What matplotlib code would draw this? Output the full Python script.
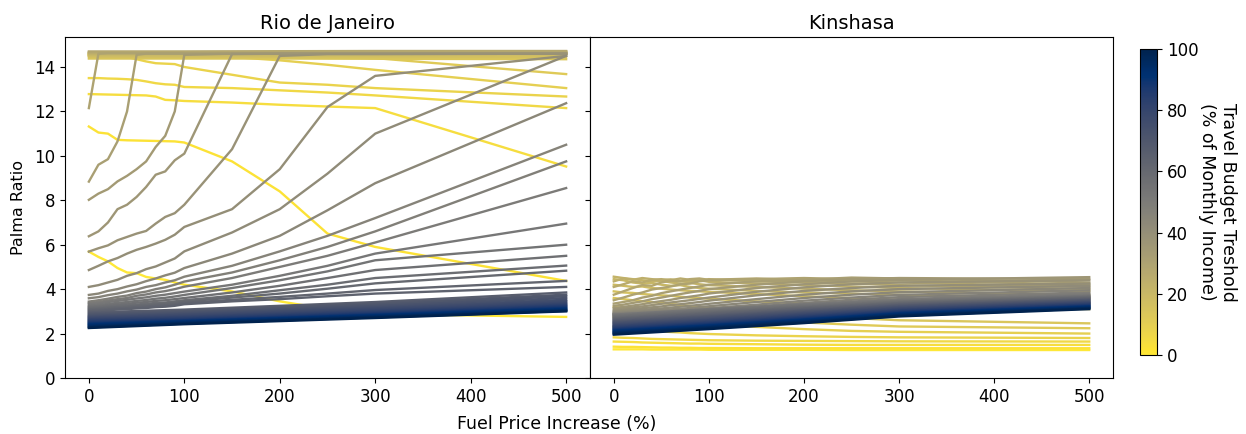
import matplotlib
matplotlib.use("Agg")
import matplotlib.pyplot as plt
from matplotlib.colors import Normalize
from matplotlib.cm import ScalarMappable

# fuel price steps (%) of the simulation runs
fuel_increase = [0, 10, 20, 30, 40, 50, 60, 70, 80, 90, 100, 150, 200, 250, 300, 500]
# runs where only the main steps were kept
fuel_coarse = [0, 100, 200, 300, 500]

# ---- Rio de Janeiro ----
rio_thr = [0, 2, 4, 6, 8, 10, 12,
           30, 32, 34, 36, 38, 40, 42, 44, 46, 48, 50, 52, 54, 56, 58, 60, 62, 64]
rio_palma = [
    [5.69, 5.45, 5.25, 4.95, 4.75, 4.72, 4.55, 4.48, 4.42, 4.30, 4.20, 3.90, 3.45, 3.10, 2.88, 2.75],
    [11.32, 11.05, 11.00, 10.72, 10.70, 10.69, 10.68, 10.67, 10.66, 10.65, 10.60, 9.75, 8.40, 6.50, 5.90, 4.37],
    [12.78, 12.77, 12.76, 12.75, 12.74, 12.73, 12.72, 12.67, 12.52, 12.50, 12.47, 12.40, 12.30, 12.22, 12.15, 9.52],
    [13.50, 13.50, 13.48, 13.47, 13.45, 13.42, 13.35, 13.27, 13.22, 13.20, 13.10, 13.05, 12.95, 12.85, 12.72, 12.15],
    [14.50, 14.50, 14.50, 14.48, 14.45, 14.35, 14.25, 14.17, 14.15, 14.13, 14.00, 13.65, 13.30, 13.20, 13.05, 12.67],
    [14.55, 14.55, 14.55, 14.55, 14.55, 14.55, 14.55, 14.54, 14.54, 14.53, 14.52, 14.45, 14.30, 14.10, 13.87, 13.05],
    [14.60, 14.60, 14.60, 14.60, 14.60, 14.60, 14.60, 14.60, 14.60, 14.60, 14.60, 14.60, 14.52, 14.45, 14.40, 13.68],
    [12.15, 14.60, 14.62, 14.62, 14.62, 14.62, 14.62, 14.62, 14.62, 14.62, 14.62, 14.62, 14.62, 14.62, 14.62, 14.62],
    [8.84, 9.60, 9.85, 10.65, 12.00, 14.55, 14.60, 14.60, 14.60, 14.60, 14.60, 14.60, 14.60, 14.60, 14.60, 14.60],
    [8.02, 8.30, 8.50, 8.85, 9.10, 9.40, 9.75, 10.40, 10.90, 12.00, 14.55, 14.60, 14.60, 14.60, 14.60, 14.60],
    [6.38, 6.60, 7.00, 7.60, 7.80, 8.15, 8.60, 9.15, 9.30, 9.80, 10.10, 14.58, 14.60, 14.60, 14.60, 14.60],
    [5.69, 5.84, 5.97, 6.20, 6.35, 6.50, 6.62, 6.95, 7.25, 7.42, 7.80, 10.30, 14.50, 14.58, 14.58, 14.60],
    [4.86, 5.05, 5.25, 5.40, 5.60, 5.77, 5.90, 6.05, 6.22, 6.45, 6.80, 7.60, 9.40, 12.20, 13.60, 14.50],
    [4.10, 4.18, 4.30, 4.42, 4.60, 4.72, 4.90, 5.02, 5.20, 5.38, 5.70, 6.55, 7.60, 9.20, 11.00, 14.50],
    [3.74, 3.80, 3.92, 4.00, 4.12, 4.22, 4.36, 4.48, 4.62, 4.74, 4.95, 5.60, 6.40, 7.55, 8.77, 12.37],
    [3.59, 3.64, 3.73, 3.80, 3.90, 3.98, 4.10, 4.18, 4.30, 4.40, 4.56, 5.05, 5.70, 6.40, 7.20, 10.50],
    [3.44, 3.50, 3.57, 3.65, 3.71, 3.82, 3.89, 4.00, 4.08, 4.20, 4.34, 4.75, 5.30, 5.90, 6.60, 9.75],
    [3.38, 3.42, 3.49, 3.55, 3.60, 3.70, 3.76, 3.85, 3.91, 4.00, 4.11, 4.50, 5.00, 5.50, 6.10, 8.55],
    [3.32, 3.35, 3.42, 3.47, 3.52, 3.58, 3.63, 3.70, 3.75, 3.82, 3.89, 4.20, 4.60, 5.05, 5.60, 6.95],
    [3.25, 3.28, 3.34, 3.38, 3.42, 3.47, 3.51, 3.57, 3.61, 3.67, 3.74, 4.05, 4.40, 4.80, 5.30, 6.00],
    [3.20, 3.22, 3.27, 3.31, 3.34, 3.39, 3.42, 3.47, 3.50, 3.55, 3.60, 3.85, 4.15, 4.50, 4.86, 5.50],
    [3.15, 3.17, 3.21, 3.25, 3.27, 3.31, 3.34, 3.38, 3.40, 3.45, 3.50, 3.70, 3.95, 4.20, 4.50, 5.06],
    [3.10, 3.12, 3.16, 3.19, 3.21, 3.25, 3.27, 3.31, 3.34, 3.38, 3.44, 3.62, 3.80, 4.02, 4.26, 4.83],
    [3.05, 3.07, 3.10, 3.13, 3.15, 3.19, 3.21, 3.25, 3.27, 3.31, 3.38, 3.52, 3.65, 3.80, 3.96, 4.37],
    [3.00, 3.02, 3.05, 3.08, 3.10, 3.13, 3.15, 3.19, 3.21, 3.25, 3.32, 3.45, 3.55, 3.68, 3.80, 4.10],
]
rio_thr_coarse = [14, 16, 18, 20, 22, 24, 26, 28,
                  66, 68, 70, 72, 74, 76, 78, 80, 82, 84, 86, 88, 90, 92, 94, 96, 98, 100]
rio_palma_coarse = [
    [14.38, 14.38, 14.38, 14.37, 14.35],
    [14.45, 14.45, 14.45, 14.45, 14.45],
    [14.50, 14.50, 14.50, 14.52, 14.55],
    [14.55, 14.56, 14.57, 14.58, 14.60],
    [14.60, 14.61, 14.62, 14.63, 14.65],
    [14.63, 14.64, 14.65, 14.66, 14.68],
    [14.66, 14.67, 14.68, 14.69, 14.70],
    [14.70, 14.70, 14.71, 14.72, 14.72],
    [2.95, 3.08, 3.25, 3.42, 3.85],
    [2.90, 3.03, 3.20, 3.36, 3.75],
    [2.85, 2.98, 3.14, 3.30, 3.68],
    [2.80, 2.93, 3.08, 3.24, 3.60],
    [2.76, 2.88, 3.03, 3.18, 3.52],
    [2.72, 2.84, 2.98, 3.13, 3.46],
    [2.68, 2.79, 2.93, 3.08, 3.40],
    [2.64, 2.75, 2.89, 3.03, 3.35],
    [2.60, 2.71, 2.85, 2.99, 3.30],
    [2.56, 2.67, 2.81, 2.95, 3.26],
    [2.52, 2.63, 2.77, 2.91, 3.22],
    [2.48, 2.60, 2.74, 2.88, 3.18],
    [2.44, 2.57, 2.71, 2.85, 3.14],
    [2.40, 2.54, 2.68, 2.82, 3.10],
    [2.36, 2.51, 2.65, 2.79, 3.07],
    [2.32, 2.48, 2.62, 2.76, 3.04],
    [2.28, 2.45, 2.59, 2.73, 3.02],
    [2.25, 2.42, 2.56, 2.70, 3.00],
]

# ---- Kinshasa ----
kin_thr = [0, 2, 4, 6, 8, 10, 12, 14,
           16, 18, 20, 22, 24, 26, 28, 30, 32, 34, 36, 38, 40, 42, 44, 46, 48, 50]
kin_palma = [
    [1.29, 1.29, 1.29, 1.29, 1.28, 1.28, 1.28, 1.28, 1.28, 1.28, 1.27, 1.27, 1.27, 1.26, 1.26, 1.26],
    [1.41, 1.40, 1.40, 1.39, 1.38, 1.37, 1.37, 1.36, 1.36, 1.35, 1.35, 1.34, 1.34, 1.34, 1.34, 1.34],
    [1.64, 1.63, 1.62, 1.60, 1.59, 1.58, 1.57, 1.56, 1.55, 1.55, 1.54, 1.52, 1.50, 1.49, 1.49, 1.49],
    [1.83, 1.81, 1.80, 1.78, 1.76, 1.75, 1.74, 1.73, 1.72, 1.71, 1.70, 1.68, 1.67, 1.66, 1.65, 1.64],
    [2.30, 2.25, 2.20, 2.15, 2.12, 2.10, 2.07, 2.05, 2.02, 2.00, 1.98, 1.92, 1.88, 1.85, 1.83, 1.80],
    [2.75, 2.70, 2.66, 2.62, 2.58, 2.55, 2.52, 2.49, 2.46, 2.43, 2.40, 2.30, 2.20, 2.12, 2.08, 2.00],
    [3.20, 3.15, 3.10, 3.05, 3.00, 2.96, 2.92, 2.88, 2.85, 2.82, 2.78, 2.62, 2.50, 2.40, 2.32, 2.24],
    [3.60, 3.55, 3.50, 3.46, 3.42, 3.38, 3.33, 3.29, 3.25, 3.21, 3.18, 3.00, 2.85, 2.70, 2.60, 2.46],
    [3.90, 3.85, 3.83, 3.78, 3.75, 3.72, 3.70, 3.66, 3.62, 3.60, 3.57, 3.45, 3.35, 3.28, 3.22, 3.10],
    [4.20, 4.15, 4.10, 4.12, 4.05, 4.02, 3.98, 3.95, 3.92, 3.90, 3.88, 3.78, 3.68, 3.60, 3.52, 3.35],
    [4.45, 4.40, 4.30, 4.25, 4.28, 4.20, 4.15, 4.18, 4.10, 4.05, 4.02, 3.92, 3.85, 3.80, 3.75, 3.60],
    [4.56, 4.50, 4.45, 4.40, 4.35, 4.38, 4.30, 4.25, 4.28, 4.22, 4.18, 4.10, 4.02, 3.95, 3.90, 3.75],
    [4.35, 4.48, 4.42, 4.50, 4.45, 4.40, 4.44, 4.38, 4.35, 4.40, 4.33, 4.25, 4.18, 4.12, 4.05, 3.90],
    [4.10, 4.22, 4.35, 4.30, 4.42, 4.45, 4.40, 4.48, 4.42, 4.38, 4.45, 4.35, 4.30, 4.25, 4.18, 4.00],
    [3.75, 3.90, 4.05, 4.18, 4.15, 4.30, 4.38, 4.35, 4.45, 4.48, 4.42, 4.48, 4.40, 4.35, 4.30, 4.10],
    [3.50, 3.62, 3.75, 3.85, 3.98, 4.05, 4.12, 4.22, 4.25, 4.35, 4.40, 4.45, 4.50, 4.45, 4.40, 4.20],
    [3.35, 3.42, 3.50, 3.62, 3.70, 3.82, 3.90, 3.98, 4.05, 4.12, 4.20, 4.35, 4.42, 4.52, 4.48, 4.30],
    [3.25, 3.30, 3.38, 3.45, 3.55, 3.62, 3.70, 3.78, 3.85, 3.92, 4.00, 4.20, 4.35, 4.45, 4.50, 4.45],
    [3.15, 3.20, 3.26, 3.32, 3.40, 3.46, 3.52, 3.60, 3.66, 3.72, 3.80, 4.05, 4.22, 4.35, 4.42, 4.54],
    [3.08, 3.12, 3.18, 3.22, 3.28, 3.34, 3.40, 3.45, 3.50, 3.56, 3.62, 3.88, 4.08, 4.22, 4.30, 4.40],
    [3.02, 3.05, 3.10, 3.14, 3.18, 3.22, 3.28, 3.32, 3.37, 3.42, 3.48, 3.72, 3.92, 4.05, 4.15, 4.25],
    [2.97, 3.00, 3.03, 3.06, 3.10, 3.13, 3.17, 3.21, 3.25, 3.29, 3.34, 3.55, 3.75, 3.90, 4.00, 4.15],
    [2.93, 2.95, 2.98, 3.00, 3.03, 3.06, 3.09, 3.12, 3.15, 3.19, 3.23, 3.42, 3.60, 3.75, 3.86, 4.05],
    [2.90, 2.92, 2.94, 2.96, 2.98, 3.00, 3.02, 3.05, 3.08, 3.11, 3.14, 3.30, 3.48, 3.62, 3.74, 3.95],
    [2.88, 2.89, 2.91, 2.92, 2.94, 2.96, 2.98, 3.00, 3.02, 3.05, 3.08, 3.22, 3.38, 3.52, 3.64, 3.85],
    [2.86, 2.87, 2.88, 2.89, 2.91, 2.92, 2.94, 2.96, 2.98, 3.00, 3.02, 3.15, 3.30, 3.44, 3.55, 3.78],
]
kin_thr_coarse = [52, 54, 56, 58, 60, 62, 64, 66, 68, 70, 72, 74, 76,
                  78, 80, 82, 84, 86, 88, 90, 92, 94, 96, 98, 100]
kin_palma_coarse = [
    [2.85, 3.10, 3.32, 3.50, 3.72],
    [2.81, 3.06, 3.28, 3.46, 3.69],
    [2.78, 3.02, 3.24, 3.43, 3.67],
    [2.74, 2.98, 3.20, 3.40, 3.64],
    [2.70, 2.94, 3.17, 3.37, 3.62],
    [2.66, 2.90, 3.13, 3.34, 3.59],
    [2.63, 2.86, 3.10, 3.31, 3.56],
    [2.59, 2.82, 3.06, 3.28, 3.54],
    [2.55, 2.78, 3.03, 3.25, 3.51],
    [2.51, 2.75, 2.99, 3.22, 3.49],
    [2.48, 2.71, 2.96, 3.19, 3.46],
    [2.44, 2.67, 2.92, 3.16, 3.43],
    [2.40, 2.63, 2.89, 3.13, 3.41],
    [2.36, 2.60, 2.85, 3.10, 3.38],
    [2.33, 2.56, 2.82, 3.07, 3.36],
    [2.29, 2.52, 2.78, 3.04, 3.33],
    [2.25, 2.49, 2.75, 3.01, 3.30],
    [2.21, 2.45, 2.71, 2.98, 3.28],
    [2.18, 2.42, 2.68, 2.95, 3.25],
    [2.14, 2.38, 2.64, 2.92, 3.23],
    [2.10, 2.35, 2.61, 2.89, 3.20],
    [2.06, 2.31, 2.57, 2.86, 3.18],
    [2.03, 2.28, 2.54, 2.83, 3.15],
    [1.99, 2.24, 2.50, 2.80, 3.13],
    [1.95, 2.20, 2.47, 2.77, 3.10],
]

cmap = plt.get_cmap('cividis_r')
norm = Normalize(vmin=0, vmax=100)


def draw_city(ax, groups, title):
    runs = []
    for xs, thr, rows in groups:
        for t, row in zip(thr, rows):
            runs.append((t, xs, row))
    # low thresholds first so the high ones end up on top
    runs.sort(key=lambda r: r[0])
    for t, xs, row in runs:
        ax.plot(xs, row, color=cmap(norm(t)), lw=1.7)
    ax.set_title(title, fontsize=14)
    ax.set_xlim(-25, 525)
    ax.set_xticks([0, 100, 200, 300, 400, 500])
    ax.tick_params(labelsize=12)


fig = plt.figure(figsize=(12.46, 4.34), dpi=100)
ax_rio = fig.add_axes([65 / 1246, 56 / 434, 525 / 1246, 341 / 434])
ax_kin = fig.add_axes([590 / 1246, 56 / 434, 523 / 1246, 341 / 434], sharey=ax_rio)
cax = fig.add_axes([1140 / 1246, 79 / 434, 17 / 1246, 306 / 434])

draw_city(ax_rio, [(fuel_increase, rio_thr, rio_palma),
                   (fuel_coarse, rio_thr_coarse, rio_palma_coarse)], 'Rio de Janeiro')
draw_city(ax_kin, [(fuel_increase, kin_thr, kin_palma),
                   (fuel_coarse, kin_thr_coarse, kin_palma_coarse)], 'Kinshasa')

ax_rio.set_ylim(0, 15.35)
ax_rio.set_yticks(range(0, 15, 2))
ax_rio.set_ylabel('Palma Ratio', fontsize=11.5, labelpad=6)
plt.setp(ax_kin.get_yticklabels(), visible=False)

fig.text(557 / 1246, 0.023, 'Fuel Price Increase (%)', ha='center', va='center', fontsize=12.5)

cb = fig.colorbar(ScalarMappable(norm=norm, cmap=cmap), cax=cax)
cb.set_ticks([0, 20, 40, 60, 80, 100])
cb.ax.tick_params(labelsize=12)
cb.set_label('Travel Budget Treshold\n(% of Monthly Income)', rotation=270,
             labelpad=28, fontsize=12.5)

fig.savefig('out.png', dpi=100)
